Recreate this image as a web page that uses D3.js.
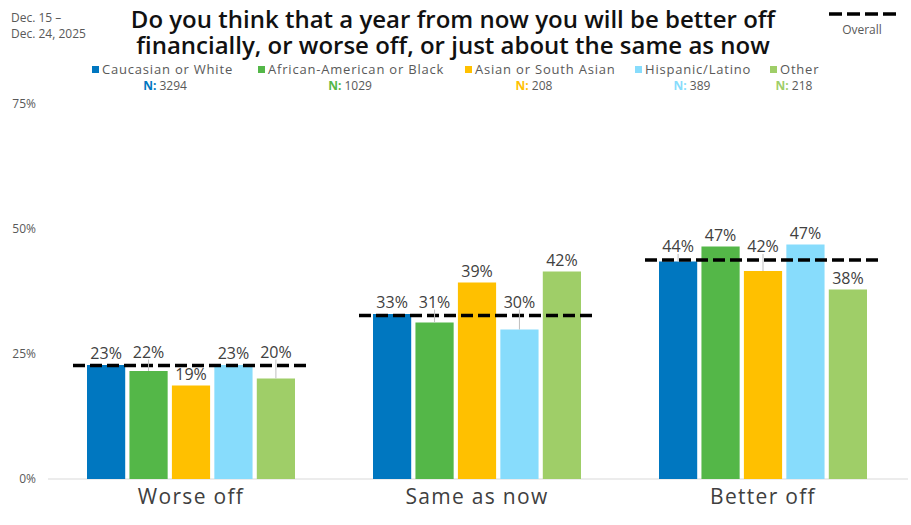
<!DOCTYPE html>
<html lang="en">
  <head>
    <meta charset="UTF-8" />
    <title>Better off financially</title>
    <style>
      body { margin: 0; background: #fff; }
      text { font-family: "Open Sans", "DejaVu Sans", sans-serif; }
    </style>
  </head>
  <body>
    <svg id="svg" width="911" height="525"></svg>

    <script src="https://d3js.org/d3.v7.min.js"></script>
    <script>
      const categories = ["Worse off", "Same as now", "Better off"];
      const series = ["Caucasian or White", "African-American or Black", "Asian or South Asian", "Hispanic/Latino", "Other"];
      const sampleN = [3294, 1029, 208, 389, 218];
      const colors = ["#0077c0", "#54b748", "#ffc000", "#87dcfc", "#9fce68"];
      // percent per category, one entry per series
      const values = [
        [22.8, 21.6, 18.7, 22.8, 20.1],
        [33.0, 31.3, 39.3, 29.9, 41.5],
        [43.5, 46.5, 41.6, 46.9, 37.9]
      ];
      const labels = [
        ["23%", "22%", "19%", "23%", "20%"],
        ["33%", "31%", "39%", "30%", "42%"],
        ["44%", "47%", "42%", "47%", "38%"]
      ];
      const overall = [22.7, 32.7, 43.8];
      const yTicks = [0, 25, 50, 75];

      const svg = d3.select("#svg");

      const x0 = d3.scaleBand().domain(categories).range([48, 906]);
      const x1 = d3.scaleBand().domain(series).range([39, 247]).paddingInner(0.1);
      const y = d3.scaleLinear().domain([0, 75]).range([479, 104]);

      // y axis labels
      svg.append("g")
        .selectAll("text")
        .data(yTicks)
        .enter()
        .append("text")
        .attr("x", 36)
        .attr("y", (d) => y(d) + 4)
        .attr("text-anchor", "end")
        .attr("font-size", 12)
        .attr("fill", "#595959")
        .text((d) => d + "%");

      // baseline
      svg.append("line")
        .attr("x1", 48).attr("x2", 908)
        .attr("y1", y(0)).attr("y2", y(0))
        .attr("stroke", "#d9d9d9");

      const groups = svg.selectAll(".grp")
        .data(categories)
        .enter()
        .append("g")
        .attr("class", "grp")
        .attr("transform", (d) => `translate(${x0(d)},0)`);

      groups.selectAll("rect")
        .data((d, i) => values[i].map((v, j) => ({ v, j })))
        .enter()
        .append("rect")
        .attr("x", (d) => x1(series[d.j]))
        .attr("width", x1.bandwidth())
        .attr("y", (d) => y(d.v))
        .attr("height", (d) => y(0) - y(d.v))
        .attr("fill", (d) => colors[d.j]);

      // overall dashed line
      groups.append("line")
        .attr("x1", 25).attr("x2", 261)
        .attr("y1", (d, i) => y(overall[i]))
        .attr("y2", (d, i) => y(overall[i]))
        .attr("stroke", "#000")
        .attr("stroke-width", 3.5)
        .attr("stroke-dasharray", "12,5");

      // value labels (lifted above the dashed line when they would collide)
      groups.each(function (c, i) {
        const g = d3.select(this);
        const lineY = y(overall[i]);
        values[i].forEach((v, j) => {
          const barY = y(v);
          const lifted = barY > lineY && barY - lineY < 18;
          const anchor = lifted ? lineY - 2 : barY;
          const cx = x1(series[j]) + x1.bandwidth() / 2;
          if (lifted) {
            g.append("line")
              .attr("x1", cx).attr("x2", cx)
              .attr("y1", anchor - 4).attr("y2", barY)
              .attr("stroke", "#bfbfbf");
          }
          g.append("text")
            .attr("x", cx)
            .attr("y", anchor - 6)
            .attr("text-anchor", "middle")
            .attr("font-size", 16)
            .attr("fill", "#404040")
            .text(labels[i][j]);
        });
      });

      // category labels
      svg.append("g")
        .selectAll("text")
        .data(categories)
        .enter()
        .append("text")
        .attr("x", (d) => x0(d) + x0.bandwidth() / 2)
        .attr("y", 504)
        .attr("text-anchor", "middle")
        .attr("font-size", 21)
        .attr("letter-spacing", 1.3)
        .attr("fill", "#404040")
        .text((d) => d);

      // title
      const title = svg.append("text")
        .attr("x", 453)
        .attr("text-anchor", "middle")
        .attr("font-size", 24)
        .attr("font-weight", 600)
        .attr("fill", "#111");
      title.append("tspan").attr("x", 453).attr("y", 28)
        .text("Do you think that a year from now you will be better off");
      title.append("tspan").attr("x", 453).attr("y", 54)
        .text("financially, or worse off, or just about the same as now");

      // date
      svg.append("text").attr("x", 11).attr("y", 22)
        .attr("font-size", 12).attr("fill", "#595959").text("Dec. 15 –");
      svg.append("text").attr("x", 11).attr("y", 38)
        .attr("font-size", 12).attr("fill", "#595959").text("Dec. 24, 2025");

      // overall legend
      svg.append("line")
        .attr("x1", 829).attr("x2", 897)
        .attr("y1", 14).attr("y2", 14)
        .attr("stroke", "#000").attr("stroke-width", 3.5)
        .attr("stroke-dasharray", "13,5");
      svg.append("text").attr("x", 862).attr("y", 34)
        .attr("text-anchor", "middle")
        .attr("font-size", 12).attr("fill", "#595959").text("Overall");

      // series legend
      const legendX = [92, 258, 465, 635, 770];
      const nCenter = [165, 350, 534, 692, 794];
      const leg = svg.append("g");
      series.forEach((s, j) => {
        leg.append("rect")
          .attr("x", legendX[j]).attr("y", 66)
          .attr("width", 7).attr("height", 7)
          .attr("fill", colors[j]);
        leg.append("text")
          .attr("x", legendX[j] + 10).attr("y", 74)
          .attr("font-size", 13)
          .attr("letter-spacing", 0.8)
          .attr("fill", "#595959")
          .text(s);
        const t = leg.append("text")
          .attr("x", nCenter[j]).attr("y", 90)
          .attr("text-anchor", "middle")
          .attr("font-size", 12).attr("fill", "#595959");
        t.append("tspan").attr("fill", colors[j]).attr("font-weight", 700).text("N: ");
        t.append("tspan").text(sampleN[j]);
      });
    </script>
  </body>
</html>
